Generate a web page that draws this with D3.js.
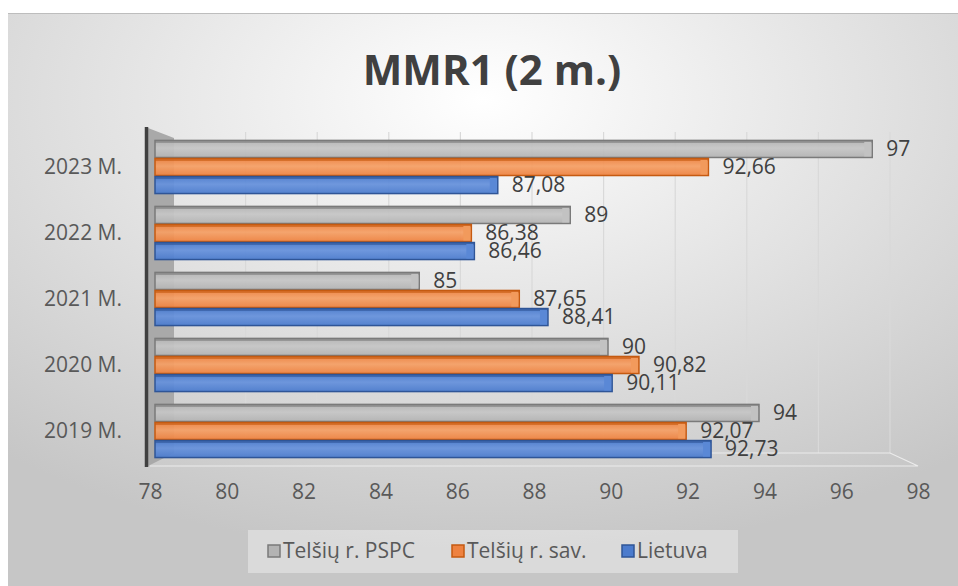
<!DOCTYPE html>
<html>
<head>
<meta charset="utf-8">
<script src="https://cdn.jsdelivr.net/npm/d3@7"></script>
<style>
  body { margin: 0; background: #fff; }
  svg { display: block; font-family: "Open Sans", sans-serif; }
</style>
</head>
<body>
<svg id="chart" width="958" height="586"></svg>
<script>
const categories = ["2019 M.", "2020 M.", "2021 M.", "2022 M.", "2023 M."];
const seriesNames = ["Telšių r. PSPC", "Telšių r. sav.", "Lietuva"];
const pspcValues = [94, 90, 85, 89, 97];
const savValues = [92.07, 90.82, 87.65, 86.38, 92.66];
const lietuvaValues = [92.73, 90.11, 88.41, 86.46, 87.08];
const tickValues = [78, 80, 82, 84, 86, 88, 90, 92, 94, 96, 98];

const allValues = [pspcValues, savValues, lietuvaValues];
const colors = [
	{ fill: "#b3b3b3", light: "#c6c6c6", dark: "#7a7a7a", cap: "#c2c2c2" },
	{ fill: "#ee8240", light: "#f5a066", dark: "#c55a11", cap: "#f29a5c" },
	{ fill: "#4b7bcd", light: "#6792dc", dark: "#2f5597", cap: "#5a88d6" },
];

const svg = d3.select("#chart");
const defs = svg.append("defs");

const bg = defs.append("radialGradient").attr("id", "bg").attr("cx", "50%").attr("cy", "15%").attr("r", "80%");
bg.append("stop").attr("offset", "0%").attr("stop-color", "#ffffff");
bg.append("stop").attr("offset", "100%").attr("stop-color", "#c6c6c6");

colors.forEach((c, i) => {
	const g = defs.append("linearGradient").attr("id", "bar" + i).attr("x1", 0).attr("y1", 0).attr("x2", 0).attr("y2", 1);
	g.append("stop").attr("offset", "0%").attr("stop-color", c.fill);
	g.append("stop").attr("offset", "45%").attr("stop-color", c.light);
	g.append("stop").attr("offset", "100%").attr("stop-color", c.fill);
});

svg.append("rect").attr("x", 8).attr("y", 13).attr("width", 950).attr("height", 573).attr("fill", "url(#bg)");
svg.append("line").attr("x1", 8).attr("x2", 958).attr("y1", 13.5).attr("y2", 13.5).attr("stroke", "#bdbdbd");

// scales: front of bars, back wall, front edge of the floor
const x = d3.scaleLinear().domain([78, 98]).range([155, 910]);
const xBack = d3.scaleLinear().domain([78, 98]).range([174, 890]);
const xFloor = d3.scaleLinear().domain([78, 98]).range([150, 918]);
const y = d3.scaleBand().domain(categories.slice().reverse()).range([134, 464]).paddingInner(0.18).paddingOuter(0.09);
const ySub = d3.scaleBand().domain(d3.range(seriesNames.length)).range([0, y.bandwidth()]);

// back wall gridlines
svg.append("g")
	.selectAll("line")
	.data(tickValues.slice(1))
	.join("line")
	.attr("x1", (d) => xBack(d))
	.attr("x2", (d) => xBack(d))
	.attr("y1", 132)
	.attr("y2", 453)
	.attr("stroke", "#d9d9d9")
	.attr("stroke-width", 1.2);

// floor edges
svg.append("path")
	.attr("d", `M${xFloor(78)},466 L${xFloor(98)},466 L${xBack(98)},453 L${xBack(78)},453`)
	.attr("fill", "none")
	.attr("stroke", "#ececec")
	.attr("stroke-width", 1.2);

// left wall
svg.append("path")
	.attr("d", "M148,128 L174,138 L174,453 L148,466 Z")
	.attr("fill", "#a9a9a9");
svg.append("line").attr("x1", 146.5).attr("x2", 146.5).attr("y1", 127).attr("y2", 467).attr("stroke", "#404040").attr("stroke-width", 3.5);

// bars
const rows = [];
categories.forEach((cat, ci) => {
	allValues.forEach((vals, si) => rows.push({ cat, si, v: vals[ci] }));
});

const bars = svg.append("g").selectAll("g").data(rows).join("g")
	.attr("transform", (d) => `translate(0, ${y(d.cat) + ySub(d.si)})`);

const bh = ySub.bandwidth();
bars.append("rect")
	.attr("x", x(78))
	.attr("y", 0.5)
	.attr("width", (d) => x(d.v) - x(78))
	.attr("height", bh - 1)
	.attr("fill", (d) => `url(#bar${d.si})`)
	.attr("fill-opacity", 0.94)
	.attr("stroke", (d) => colors[d.si].dark)
	.attr("stroke-width", 1.5);
bars.append("rect")
	.attr("x", x(78))
	.attr("y", 0)
	.attr("width", (d) => x(d.v) - x(78))
	.attr("height", 3)
	.attr("fill", (d) => colors[d.si].dark)
	.attr("opacity", 0.6);
bars.append("rect")
	.attr("x", (d) => x(d.v) - 8)
	.attr("y", 2)
	.attr("width", 7)
	.attr("height", bh - 3.5)
	.attr("fill", (d) => colors[d.si].cap);

// value labels
bars.append("text")
	.attr("x", (d) => x(d.v) + 14)
	.attr("y", bh / 2 + 1)
	.attr("dominant-baseline", "middle")
	.attr("font-size", 21)
	.attr("fill", "#404040")
	.text((d) => String(d.v).replace(".", ","));

// category labels
svg.append("g")
	.selectAll("text")
	.data(categories)
	.join("text")
	.attr("x", 122)
	.attr("y", (d) => y(d) + y.bandwidth() / 2 + 1)
	.attr("text-anchor", "end")
	.attr("dominant-baseline", "middle")
	.attr("font-size", 21)
	.attr("fill", "#595959")
	.text((d) => d);

// x axis labels on the floor front edge
const axis = svg.append("g")
	.attr("transform", "translate(0, 484)")
	.call(d3.axisBottom(xFloor).tickValues(tickValues).tickSize(0).tickPadding(0));
axis.select(".domain").remove();
axis.selectAll("text").attr("font-size", 21).attr("font-family", "Open Sans").attr("fill", "#595959");

// title
svg.append("text")
	.attr("x", 492)
	.attr("y", 85)
	.attr("text-anchor", "middle")
	.attr("font-size", 42)
	.attr("font-weight", "bold")
	.attr("fill", "#404040")
	.text("MMR1 (2 m.)");

// legend
svg.append("rect").attr("x", 248).attr("y", 530).attr("width", 490).attr("height", 43)
	.attr("fill", "#ffffff").attr("fill-opacity", 0.35);
const legendX = [268, 452, 622];
const legend = svg.append("g").selectAll("g").data(seriesNames).join("g")
	.attr("transform", (d, i) => `translate(${legendX[i]}, 551)`);
legend.append("rect").attr("x", 0).attr("y", -6).attr("width", 12).attr("height", 12)
	.attr("fill", (d, i) => colors[i].fill).attr("stroke", (d, i) => colors[i].dark).attr("stroke-width", 1.5);
legend.append("text").attr("x", 15).attr("y", 1).attr("dominant-baseline", "middle")
	.attr("font-size", 21).attr("fill", "#595959").text((d) => d);
</script>
</body>
</html>
